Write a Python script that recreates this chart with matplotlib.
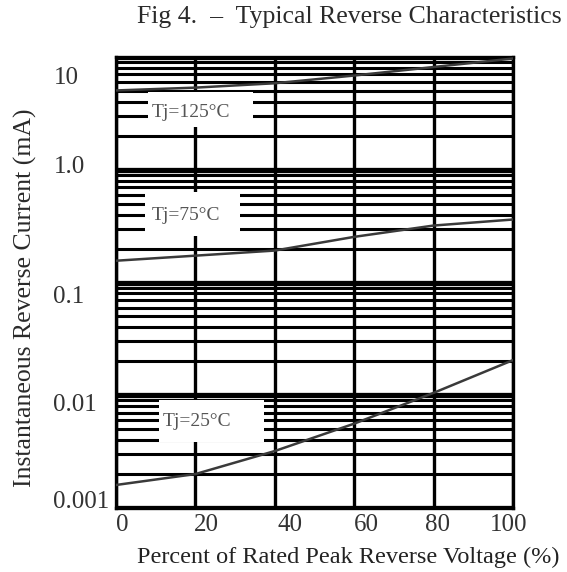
import matplotlib
matplotlib.use("Agg")
import matplotlib.pyplot as plt
import matplotlib.transforms as mtransforms
from matplotlib.patches import Rectangle

# Data
voltage_pct = [0, 20, 40, 60, 80, 100]
current_125 = [5.05, 5.35, 5.85, 6.85, 8.15, 9.7]
current_75 = [0.156, 0.173, 0.192, 0.254, 0.32, 0.362]
current_25 = [0.0016, 0.002, 0.0032, 0.0056, 0.0105, 0.0205]

x_ticks = [0, 20, 40, 60, 80, 100]
x_tick_labels = ["0", "20", "40", "60", "80", "100"]
y_ticks = [0.001, 0.01, 0.1, 1.0, 10]
y_tick_labels = ["0.001", "0.01", "0.1", "1.0", "10"]

curve_labels = ["Tj=125°C", "Tj=75°C", "Tj=25°C"]

# white label boxes (data units) and where the text sits inside them
box_x = [(8.1, 34.5), (7.3, 31.2), (10.8, 37.3)]
box_y = [(2.39, 4.9), (0.258, 0.635), (0.00385, 0.00908)]
text_xy = [(9.1, 3.2), (9.1, 0.39), (11.8, 0.0059)]

plt.rcParams["font.family"] = ["Liberation Serif", "DejaVu Serif"]

fig = plt.figure(figsize=(5.67, 5.72), dpi=100)
ax = fig.add_axes([116 / 567, 1 - 508 / 572, 397 / 567, 451 / 572])

ax.set_yscale("log")
ax.set_xlim(0, 100)
ax.set_ylim(0.001, 10)

# heavy black grid like the printed chart
ax.grid(True, which="major", axis="y", color="black", linewidth=3.8)
ax.grid(True, which="minor", axis="y", color="black", linewidth=2.2)
ax.grid(True, which="major", axis="x", color="black", linewidth=2.4)

for box_xr, box_yr in zip(box_x, box_y):
    ax.add_patch(Rectangle((box_xr[0], box_yr[0]), box_xr[1] - box_xr[0],
                           box_yr[1] - box_yr[0], facecolor="white",
                           edgecolor="none", zorder=2))

ax.plot(voltage_pct, current_125, color="#3a3a3a", linewidth=1.8, zorder=3)
ax.plot(voltage_pct, current_75, color="#3a3a3a", linewidth=1.8, zorder=3)
ax.plot(voltage_pct, current_25, color="#3a3a3a", linewidth=1.8, zorder=3)

for label, (tx, ty) in zip(curve_labels, text_xy):
    ax.text(tx, ty, label, fontsize=14, color="#555555", ha="left", va="center", zorder=4)

for side in ["left", "right", "top", "bottom"]:
    ax.spines[side].set_linewidth(2.4)

ax.set_xticks(x_ticks)
ax.set_xticklabels(x_tick_labels)
ax.set_yticks(y_ticks)
ax.set_yticklabels(y_tick_labels)
ax.yaxis.set_minor_formatter(plt.NullFormatter())
ax.tick_params(which="both", length=0)
ax.tick_params(axis="x", pad=4, labelsize=18, labelcolor="#333333")
ax.tick_params(axis="y", pad=45, labelsize=18, labelcolor="#333333")
for lab in ax.get_yticklabels():
    lab.set_horizontalalignment("left")

# the scan has its tick labels a little off the grid lines
x_shift_px = [6, 11, 15, 12, 4, -4]
y_shift_px = [-9, 7, 12, -5, 18]
for lab, dx in zip(ax.get_xticklabels(), x_shift_px):
    lab.set_transform(lab.get_transform() + mtransforms.ScaledTranslation(dx / 100, 0, fig.dpi_scale_trans))
for lab, dy in zip(ax.get_yticklabels(), y_shift_px):
    lab.set_transform(lab.get_transform() + mtransforms.ScaledTranslation(0, -dy / 100, fig.dpi_scale_trans))

ax.set_ylabel("Instantaneous Reverse Current (mA)", fontsize=18.5, color="#2a2a2a", va="center")
ax.yaxis.set_label_coords(-0.229, 0.466)
ax.set_xlabel("Percent of Rated Peak Reverse Voltage (%)", fontsize=17.5, color="#222222",
              ha="left", va="center")
ax.xaxis.set_label_coords(0.053, -0.109)

fig.text(137 / 567, 1 - 17 / 572, "Fig 4.  –  Typical Reverse Characteristics",
         fontsize=18.5, color="#2a2a2a", ha="left", va="center")

fig.savefig("out.png", dpi=100)
